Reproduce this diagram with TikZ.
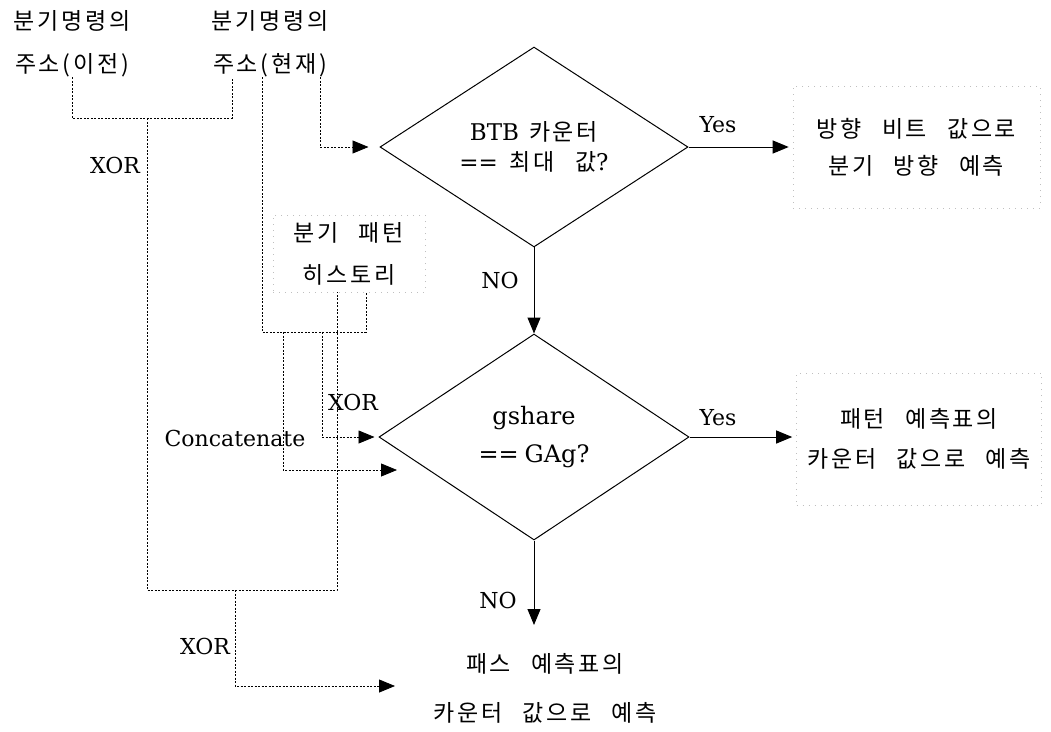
\documentclass[tikz,border=0pt]{standalone}
\usepackage{fontspec}
\setmainfont{DejaVu Serif}
\newfontfamily\cjk[LetterSpace=12]{Noto Sans CJK KR}
\newcommand\ks{\hspace{20pt}}
\usetikzlibrary{arrows.meta,shapes.geometric,calc}
\begin{document}
\begin{tikzpicture}[x=1pt,y=-1pt,
 dl/.style={line width=0.8pt, dash pattern=on 2pt off 1.5pt},
 tip/.style={-{Triangle[length=16pt,width=13pt]}},
 sl/.style={line width=1pt},
 kt/.style={font=\cjk\fontsize{23}{40}\selectfont, align=center, inner sep=0pt},
 lt/.style={font=\fontsize{22}{26}\selectfont, inner sep=0pt},
 dia/.style={draw, line width=1pt, diamond, inner sep=0pt, align=center, font=\fontsize{23}{30}\selectfont},
 faint/.style={draw=black!25, line width=0.6pt, dash pattern=on 1pt off 5pt}
]
\useasboundingbox (0,0) rectangle (1051,731);
% text nodes
\node[kt] (prev) at (72,44) {분기명령의\\[3pt]주소(이전)};
\node[kt] (cur) at (270,44) {분기명령의\\[3pt]주소(현재)};
\node[kt,faint,minimum width=152pt,minimum height=77pt] (hist) at (349,253.5) {분기\ks 패턴\\[2pt]히스토리};
\node[kt,faint,minimum width=247pt,minimum height=122pt] (out1) at (916.5,147) {방향\ks 비트\ks 값으로\\[-3pt]분기\ks 방향\ks 예측};
\node[kt,faint,minimum width=245pt,minimum height=132pt] (out2) at (919,439) {패턴\ks 예측표의\\[0pt]카운터\ks 값으로\ks 예측};
\node[kt] (out3) at (545,688) {패스\ks 예측표의\\[9pt]카운터\ks 값으로\ks 예측};
% diamonds
\node[dia,minimum width=308pt,minimum height=196pt] (d1) at (534,147) {BTB\hspace{10pt}{\cjk 카운터}\\==\hspace{12pt}{\cjk 최대\ks 값}?};
\node[dia,minimum width=310pt,minimum height=206pt,font=\fontsize{24}{30}\selectfont] (d2) at (534,437) {gshare\\[8pt]==\hspace{6pt}GAg?};
% coordinates
\coordinate (xa) at (147,118);
\coordinate (xb) at (147,590);
\coordinate (xc) at (235,590);
\coordinate (xd) at (262,332);
\coordinate (xe) at (283,332);
\coordinate (xf) at (322,332);
\coordinate (e2) at (397,470);
\coordinate (e3) at (395,686);
\coordinate (e4) at (534,625);
% dotted connectors
\draw[dl] (prev.south) |- (xa) -| ($(cur.south)+(-38,0)$);
\draw[dl] (xa) -- (xb) -| ($(hist.south)+(-12,0)$);
\draw[dl,tip] (xc) |- (e3);
\draw[dl] ($(cur.south)+(-8,0)$) |- (xd) -| ($(hist.south)+(17,0)$);
\draw[dl,tip] (xe) |- (e2);
\draw[dl,tip,shorten >=4pt] (xf) |- (d2.west);
\draw[dl,tip,shorten >=11pt] ($(cur.south)+(50,0)$) |- (d1.west);
% solid connectors
\draw[sl,tip] (d1.south) -- (d2.north);
\draw[sl,tip] (d2.south) -- (e4);
\draw[sl,tip,shorten >=4pt] (d1.east) -- (d1.east -| out1.west);
\draw[sl,tip,shorten >=4pt] (d2.east) -- (d2.east -| out2.west);
% labels
\node[lt] (l1) at (115,165) {XOR};
\node[lt] (l2) at (353,402) {XOR};
\node[lt] (l3) at (235,438) {Concatenate};
\node[lt] (l4) at (205,646) {XOR};
\node[lt] (l5) at (718,125) {Yes};
\node[lt] (l6) at (718,418) {Yes};
\node[lt] (l7) at (500,280) {NO};
\node[lt] (l8) at (498,600) {NO};
\end{tikzpicture}
\end{document}
